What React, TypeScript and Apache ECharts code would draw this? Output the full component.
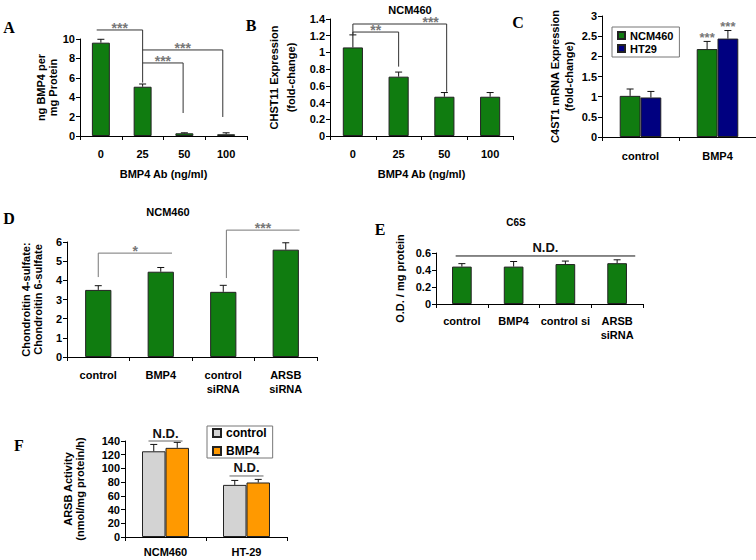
import React, { useEffect, useRef } from 'react';
import * as echarts from 'echarts';

// ---------- data ----------
const doseCats = ['0', '25', '50', '100'];
const aVals = [9.62, 5.08, 0.28, 0.18];
const aErr = [0.35, 0.28, 0.05, 0.15];
const bVals = [1.06, 0.71, 0.47, 0.47];
const bErr = [0.15, 0.055, 0.05, 0.05];

const cCats = ['control', 'BMP4'];
const cNcm = [1.02, 2.18];
const cNcmErr = [0.17, 0.19];
const cHt = [0.98, 2.44];
const cHtErr = [0.15, 0.2];
const cNcmStars = ['', '***'];
const cHtStars = ['', '***'];

const dCats = ['control', 'BMP4', 'control\nsiRNA', 'ARSB\nsiRNA'];
const dVals = [3.5, 4.45, 3.4, 5.6];
const dErr = [0.22, 0.22, 0.34, 0.36];

const eCats = ['control', 'BMP4', 'control si', 'ARSB\nsiRNA'];
const eVals = [0.44, 0.44, 0.47, 0.48];
const eErr = [0.035, 0.06, 0.035, 0.04];

const fCats = ['NCM460', 'HT-29'];
const fCtrl = [125, 76];
const fCtrlErr = [10, 6.5];
const fBmp = [130, 79.5];
const fBmpErr = [8, 4.5];

type Bracket = { from: number; to: number; level: number; left?: number; right?: number; label: string; labelAt?: number };

const aBrackets: Bracket[] = [
  { from: -0.1, to: 1, level: 10.93, right: 5.5, label: '***' },
  { from: 1, to: 2.92, level: 8.87, right: 1.96, label: '***' },
  { from: 1, to: 1.97, level: 7.53, right: 2.37, label: '***' },
];
const bBrackets: Bracket[] = [
  { from: 0, to: 1, level: 1.244, left: 1.21, right: 0.83, label: '**' },
  { from: 0, to: 2.05, level: 1.34, left: 1.21, right: 0.53, label: '***', labelAt: 1.7 },
];
const dBrackets: Bracket[] = [
  { from: 0, to: 1.18, level: 5.42, left: 4.17, label: '*' },
  { from: 2.05, to: 3.22, level: 6.62, left: 4.12, label: '***' },
];
const eBrackets: Bracket[] = [
  { from: -0.12, to: 3.35, level: 0.565, label: 'N.D.' },
];
const fBrackets: Bracket[] = [
  { from: -0.21, to: 0.21, level: 140, label: 'N.D.' },
  { from: 0.79, to: 1.21, level: 89, label: 'N.D.' },
];

// ---------- styles ----------
const SANS = '"Liberation Sans", Arial, Helvetica, sans-serif';
const SERIF = '"Liberation Serif", "Times New Roman", serif';
const GREEN = '#107c10';
const NAVY = '#000080';
const GREY = '#d3d3d3';
const ORANGE = '#ff9900';

const xAxisCfg = (grid: number, cats: string[], margin: number, name?: string, nameGap?: number) => ({
  type: 'category',
  gridIndex: grid,
  data: cats,
  name: name || '',
  nameLocation: 'middle',
  nameGap: nameGap || 30,
  nameTextStyle: { color: '#000', fontWeight: 'bold', fontSize: 11, fontFamily: SANS },
  axisLine: { lineStyle: { color: '#000', width: 1 } },
  axisTick: { show: true, length: 4, lineStyle: { color: '#000' } },
  axisLabel: { color: '#000', fontWeight: 'bold', fontSize: 11, fontFamily: SANS, margin, lineHeight: 14, interval: 0 },
  splitLine: { show: false },
});

const yAxisCfg = (grid: number, max: number, interval: number, name: string, nameGap: number, lineHeight: number) => ({
  type: 'value',
  gridIndex: grid,
  min: 0,
  max,
  interval,
  name,
  nameLocation: 'middle',
  nameRotate: 90,
  nameGap,
  nameTextStyle: { color: '#000', fontWeight: 'bold', fontSize: 11, fontFamily: SANS, lineHeight },
  axisLine: { show: true, lineStyle: { color: '#000', width: 1 } },
  axisTick: { show: true, length: 4, lineStyle: { color: '#000' } },
  axisLabel: { color: '#000', fontWeight: 'bold', fontSize: 11, fontFamily: SANS, margin: 5 },
  splitLine: { show: false },
});

const barSeries = (grid: number, name: string, vals: number[], color: string, width: string, gap?: string) => ({
  type: 'bar',
  name,
  xAxisIndex: grid,
  yAxisIndex: grid,
  data: vals,
  barWidth: width,
  barGap: gap || '0%',
  itemStyle: { color, borderColor: '#222', borderWidth: 1 },
  silent: true,
});

const errSeries = (grid: number, vals: number[], errs: number[], offset: number, stars?: string[]) => ({
  type: 'custom',
  xAxisIndex: grid,
  yAxisIndex: grid,
  silent: true,
  z: 4,
  data: vals.map((v, i) => [i, v, errs[i]]),
  encode: { x: 0, y: 1 },
  renderItem: (params: any, api: any) => {
    const i = api.value(0);
    const v = api.value(1);
    const e = api.value(2);
    const band = api.size([1, 0])[0];
    const p = api.coord([i, v]);
    const t = api.coord([i, v + e]);
    const cx = p[0] + offset * band;
    const half = 3.5;
    const children: any[] = [
      { type: 'line', shape: { x1: cx, y1: p[1], x2: cx, y2: t[1] }, style: { stroke: '#111', lineWidth: 1 } },
      { type: 'line', shape: { x1: cx - half, y1: t[1], x2: cx + half, y2: t[1] }, style: { stroke: '#111', lineWidth: 1 } },
    ];
    if (stars && stars[params.dataIndex]) {
      children.push({
        type: 'text',
        x: cx,
        y: t[1] - 4,
        style: { text: stars[params.dataIndex], fill: '#777', font: `bold 13px ${SANS}`, align: 'center', verticalAlign: 'middle' },
      });
    }
    return { type: 'group', children };
  },
});

const bracketSeries = (grid: number, list: Bracket[], lineColor: string, textColor: string, fontSize: number) => ({
  type: 'custom',
  xAxisIndex: grid,
  yAxisIndex: grid,
  silent: true,
  z: 5,
  clip: false,
  data: list.map((b, i) => [0, b.level, i]),
  encode: { x: 0, y: 1 },
  renderItem: (params: any, api: any) => {
    const b = list[params.dataIndex];
    const band = api.size([1, 0])[0];
    const x0 = api.coord([0, 0])[0];
    const px = (c: number) => x0 + c * band;
    const py = (v: number) => api.coord([0, v])[1];
    const yL = py(b.level);
    const st = { stroke: lineColor, lineWidth: 1 };
    const children: any[] = [
      { type: 'line', shape: { x1: px(b.from), y1: yL, x2: px(b.to), y2: yL }, style: st },
    ];
    if (b.left != null) children.push({ type: 'line', shape: { x1: px(b.from), y1: yL, x2: px(b.from), y2: py(b.left) }, style: st });
    if (b.right != null) children.push({ type: 'line', shape: { x1: px(b.to), y1: yL, x2: px(b.to), y2: py(b.right) }, style: st });
    const isStar = b.label.indexOf('*') >= 0;
    const lx = px(b.labelAt != null ? b.labelAt : (b.from + b.to) / 2);
    children.push({
      type: 'text',
      x: lx,
      y: yL + (isStar ? -2 : -8),
      style: { text: b.label, fill: textColor, font: `bold ${fontSize}px ${SANS}`, align: 'center', verticalAlign: 'middle' },
    });
    return { type: 'group', children };
  },
});

const txt = (text: string, x: number, y: number, font: string) => ({
  type: 'text',
  x,
  y,
  silent: true,
  style: { text, font, fill: '#000', textAlign: 'center', textVerticalAlign: 'middle', align: 'center', verticalAlign: 'middle' },
});

export default function App() {
  const ref = useRef<HTMLDivElement>(null);
  useEffect(() => {
    if (!ref.current) return;
    const chart = echarts.init(ref.current, null as any, { renderer: 'svg' });
    const legendText = { fontWeight: 'bold', fontSize: 11, fontFamily: SANS, color: '#000' };
    chart.setOption({
      animation: false,
      backgroundColor: '#fff',
      textStyle: { fontFamily: SANS },
      grid: [
        { left: 80, top: 39, width: 167, height: 97 },
        { left: 330, top: 19, width: 183, height: 117 },
        { left: 602, top: 16, width: 154, height: 121 },
        { left: 67, top: 242, width: 250, height: 115 },
        { left: 436, top: 253, width: 207, height: 51 },
        { left: 125, top: 441, width: 162, height: 96 },
      ],
      xAxis: [
        xAxisCfg(0, doseCats, 11, 'BMP4 Ab (ng/ml)', 32),
        xAxisCfg(1, doseCats, 11, 'BMP4 Ab (ng/ml)', 32),
        xAxisCfg(2, cCats, 12),
        xAxisCfg(3, dCats, 11),
        xAxisCfg(4, eCats, 10),
        xAxisCfg(5, fCats, 8),
      ],
      yAxis: [
        yAxisCfg(0, 10, 2, 'ng BMP4 per\nmg Protein', 19, 12),
        yAxisCfg(1, 1.4, 0.2, 'CHST11 Expression\n(fold-change)', 31, 17),
        yAxisCfg(2, 3, 0.5, 'C4ST1 mRNA Expression\n(fold-change)', 26, 14),
        yAxisCfg(3, 6, 1, 'Chondroitin 4-sulfate:\nChondroitin 6-sulfate', 23, 12),
        yAxisCfg(4, 0.6, 0.2, 'O.D. / mg protein', 30, 13),
        yAxisCfg(5, 140, 20, 'ARSB Activity\n(nmol/mg protein/h)', 39, 12),
      ],
      legend: [
        {
          data: ['NCM460', 'HT29'], left: 612, top: 27, orient: 'vertical', icon: 'rect',
          itemWidth: 7, itemHeight: 7, itemGap: 2, padding: [3, 6, 3, 5],
          borderColor: '#777', borderWidth: 1, textStyle: { ...legendText, lineHeight: 11 }, selectedMode: false,
        },
        {
          data: ['control', 'BMP4'], left: 207, top: 426, orient: 'vertical', icon: 'rect',
          itemWidth: 8, itemHeight: 8, itemGap: 6, padding: [1, 6, 1, 5],
          borderColor: '#777', borderWidth: 1, textStyle: { ...legendText, fontSize: 12, lineHeight: 12 }, selectedMode: false,
        },
      ],
      graphic: [
        txt('A', 9, 27, `bold 16px ${SERIF}`),
        txt('B', 251, 25, `bold 16px ${SERIF}`),
        txt('C', 518, 22, `bold 16px ${SERIF}`),
        txt('D', 9, 218, `bold 16px ${SERIF}`),
        txt('E', 380, 229, `bold 16px ${SERIF}`),
        txt('F', 19, 445, `bold 16px ${SERIF}`),
        txt('NCM460', 410, 10, `bold 11px ${SANS}`),
        txt('NCM460', 168, 212, `bold 11px ${SANS}`),
        txt('C6S', 516, 222, `bold 10px ${SANS}`),
      ],
      series: [
        barSeries(0, 'panelA', aVals, GREEN, '43%'),
        errSeries(0, aVals, aErr, 0),
        bracketSeries(0, aBrackets, '#333', '#777', 14),

        barSeries(1, 'panelB', bVals, GREEN, '44%'),
        errSeries(1, bVals, bErr, 0),
        bracketSeries(1, bBrackets, '#333', '#777', 14),

        barSeries(2, 'NCM460', cNcm, GREEN, '27%'),
        barSeries(2, 'HT29', cHt, NAVY, '27%'),
        errSeries(2, cNcm, cNcmErr, -0.135, cNcmStars),
        errSeries(2, cHt, cHtErr, 0.135, cHtStars),

        barSeries(3, 'panelD', dVals, GREEN, '42%'),
        errSeries(3, dVals, dErr, 0),
        bracketSeries(3, dBrackets, '#777', '#777', 14),

        barSeries(4, 'panelE', eVals, GREEN, '38%'),
        errSeries(4, eVals, eErr, 0),
        bracketSeries(4, eBrackets, '#111', '#111', 13),

        barSeries(5, 'control', fCtrl, GREY, '29%'),
        barSeries(5, 'BMP4', fBmp, ORANGE, '29%'),
        errSeries(5, fCtrl, fCtrlErr, -0.145),
        errSeries(5, fBmp, fBmpErr, 0.145),
        bracketSeries(5, fBrackets, '#666', '#111', 13),
      ],
    });
    return () => chart.dispose();
  }, []);
  return <div ref={ref} style={{ position: 'fixed', left: 0, top: 0, width: 756, height: 560 }} />;
}
